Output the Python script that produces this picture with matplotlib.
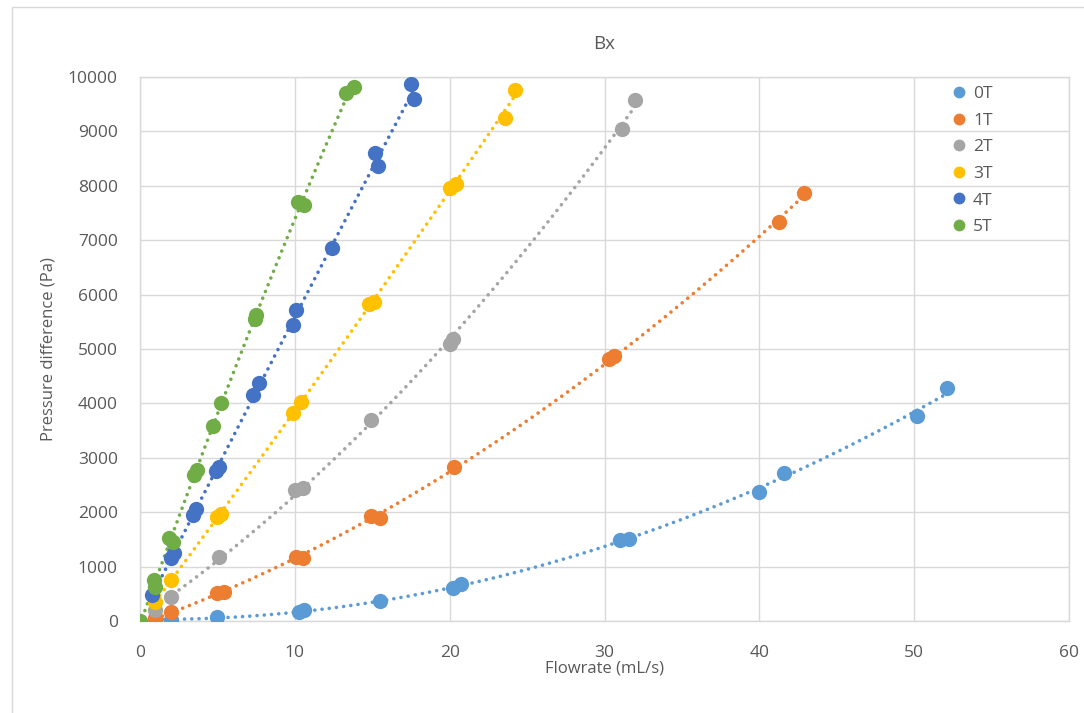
import numpy as np
import matplotlib
matplotlib.use("Agg")
import matplotlib.pyplot as plt
from matplotlib.patches import Rectangle
from matplotlib.lines import Line2D

plt.rcParams['font.family'] = ['Open Sans', 'DejaVu Sans']

labels = ["0T", "1T", "2T", "3T", "4T", "5T"]
colors = ["#5b9bd5", "#ed7d31", "#a5a5a5", "#ffc000", "#4472c4", "#70ad47"]

x_0T = [1.0, 2.0, 5.0, 10.3, 10.6, 15.5, 20.2, 20.7, 31.0, 31.6, 40.0, 41.6, 50.2, 52.1]
y_0T = [5, 15, 75, 170, 200, 375, 600, 680, 1480, 1500, 2370, 2715, 3760, 4285]

x_1T = [1.0, 2.0, 5.0, 5.4, 10.1, 10.5, 14.9, 15.5, 20.3, 30.3, 30.6, 41.3, 42.9]
y_1T = [60, 170, 510, 540, 1170, 1150, 1930, 1900, 2825, 4820, 4870, 7330, 7860]

x_2T = [1.0, 2.0, 5.1, 10.0, 10.5, 14.95, 20.0, 20.2, 31.1, 32.0]
y_2T = [200, 440, 1180, 2400, 2450, 3690, 5100, 5180, 9040, 9580]

x_3T = [1.0, 2.0, 5.0, 5.2, 9.9, 10.4, 14.8, 15.1, 20.0, 20.4, 23.55, 24.2]
y_3T = [350, 760, 1920, 1960, 3820, 4020, 5830, 5870, 7960, 8030, 9250, 9760]

x_4T = [0.8, 2.0, 2.2, 3.4, 3.6, 4.9, 5.1, 7.3, 7.7, 9.9, 10.1, 12.4, 15.2, 15.4, 17.5, 17.7]
y_4T = [480, 1150, 1250, 1950, 2050, 2750, 2830, 4150, 4370, 5440, 5720, 6850, 8600, 8360, 9880, 9590]

x_5T = [0.0, 0.9, 1.0, 1.9, 2.1, 3.5, 3.7, 4.7, 5.2, 7.4, 7.5, 10.2, 10.6, 13.3, 13.8]
y_5T = [0, 750, 630, 1520, 1450, 2680, 2770, 3580, 4000, 5550, 5630, 7700, 7650, 9700, 9820]

xs = [x_0T, x_1T, x_2T, x_3T, x_4T, x_5T]
ys = [y_0T, y_1T, y_2T, y_3T, y_4T, y_5T]

x_ticks = [0, 10, 20, 30, 40, 50, 60]
y_ticks = [0, 1000, 2000, 3000, 4000, 5000, 6000, 7000, 8000, 9000, 10000]

W, H = 1084, 713
fig = plt.figure(figsize=(W / 100, H / 100), dpi=100)
ax = fig.add_axes([140 / W, 1 - 621 / H, (1069 - 140) / W, (621 - 77) / H])

# outer chart border
fig.patches.append(Rectangle((12 / W, -0.1), 1.2, 1 - 7 / H + 0.1, transform=fig.transFigure,
                             fill=False, edgecolor="#d9d9d9", linewidth=1.0))

tick_color = "#595959"
for i, (x, y) in enumerate(zip(xs, ys)):
    xa = np.array(x, dtype=float)
    ya = np.array(y, dtype=float)
    coef = np.polyfit(xa, ya, 2)
    xx = np.linspace(xa.min(), xa.max(), 200)
    ax.plot(xx, np.polyval(coef, xx), linestyle=(0, (0.01, 2.0)), dash_capstyle="round",
            color=colors[i], linewidth=2.6, zorder=2)
    ax.plot(xa, ya, linestyle="none", marker="o", markersize=11, color=colors[i],
            markeredgewidth=0, zorder=3, label=labels[i])

ax.set_xlim(0, 60)
ax.set_ylim(0, 10000)
ax.set_xticks(x_ticks)
ax.set_yticks(y_ticks)
ax.grid(True, color="#d9d9d9", linewidth=1.0)
ax.set_axisbelow(True)
for s in ax.spines.values():
    s.set_color("#d9d9d9")
    s.set_linewidth(1.0)
ax.tick_params(length=0, colors=tick_color, labelsize=12.5)
ax.tick_params(axis="y", pad=16)
ax.tick_params(axis="x", pad=17)

ax.set_title("Bx", fontsize=13.5, color=tick_color, pad=20)
ax.set_xlabel("Flowrate (mL/s)", fontsize=12, color=tick_color, labelpad=0)
ax.set_ylabel("Pressure difference (Pa)", fontsize=12, color=tick_color, labelpad=8)

handles = [Line2D([], [], linestyle="none", marker="o", markersize=8.5, color=c, markeredgewidth=0)
           for c in colors]
leg = ax.legend(handles, labels, loc="upper left", bbox_to_anchor=(0.85, 1.012), frameon=False,
                fontsize=12.5, labelspacing=0.6, handletextpad=0.0, handlelength=1.6)
for t in leg.get_texts():
    t.set_color(tick_color)

fig.savefig("out.png", dpi=100, facecolor="white")
